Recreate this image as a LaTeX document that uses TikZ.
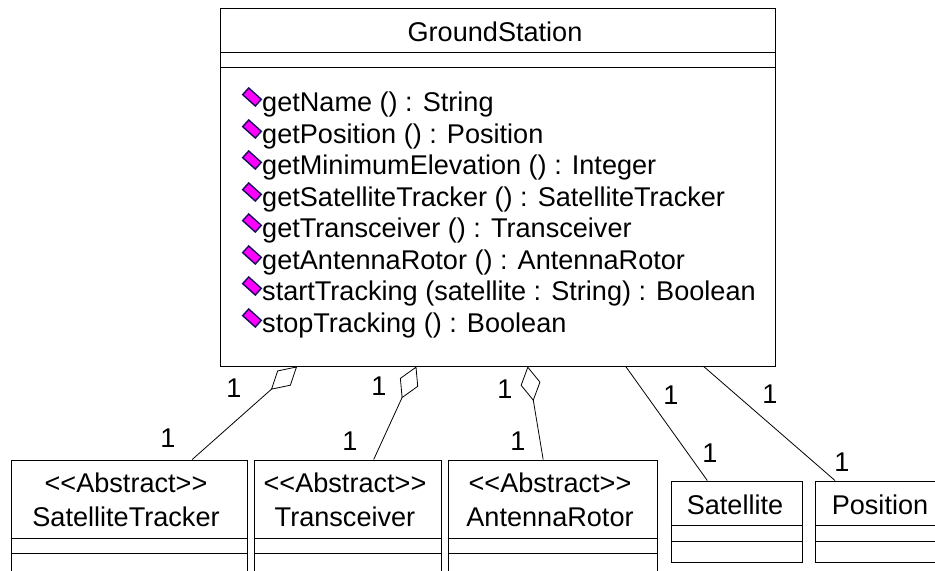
\documentclass[tikz,border=0pt]{standalone}
\usepackage{fontspec}
\setmainfont{Liberation Sans}
\usetikzlibrary{arrows.meta,shapes.geometric}
\definecolor{opmagenta}{rgb}{1.0,0.0,1.0}
\definecolor{opedge}{rgb}{0.1,0.05,0.35}
\tikzset{
  classbox/.style={draw=black,line width=0.9bp,minimum width=#1,inner sep=0pt},
  boxtext/.style={inner sep=0pt,align=center,font=\fontsize{27.2}{34}\selectfont},
  oplist/.style={inner sep=0pt,align=left,anchor=north west,font=\fontsize{27.2}{31.6}\selectfont},
  multiplicity/.style={inner sep=0pt,font=\fontsize{27.2}{30}\selectfont},
  compart/.style={line width=0.9bp},
  assoc/.style={line width=0.8bp},
  aggregation/.style={assoc,{Diamond[open,length=35bp,width=20bp]}-},
  opicon/.style={rectangle,rotate=-42,draw=opedge,line width=1.4bp,fill=opmagenta,inner sep=0pt,minimum width=17bp,minimum height=9bp}
}
\begin{document}
\begin{tikzpicture}[x=1bp,y=-1bp]
  \useasboundingbox (0,0) rectangle (935,571);
  \clip (0,0) rectangle (935,571);
  % Classes
  \node[classbox=555bp,minimum height=358bp] (ground) at (498,187) {};
  \node[classbox=236bp,minimum height=112bp] (tracker) at (129,516) {};
  \node[classbox=187bp,minimum height=112bp] (transceiver) at (348,516) {};
  \node[classbox=209bp,minimum height=112bp] (rotor) at (552.5,516) {};
  \node[classbox=131bp,minimum height=81bp] (satellite) at (736.5,521.5) {};
  \node[classbox=134bp,minimum height=81bp] (position) at (882,521.5) {};
  % Compartments
  \draw[compart] (ground.west |- 0,52) -- (ground.east |- 0,52);
  \draw[compart] (ground.west |- 0,67) -- (ground.east |- 0,67);
  \foreach \name in {tracker,transceiver,rotor} {
    \draw[compart] (\name.west |- 0,538) -- (\name.east |- 0,538);
    \draw[compart] (\name.west |- 0,553) -- (\name.east |- 0,553);
  }
  \foreach \name in {satellite,position} {
    \draw[compart] (\name.west |- 0,525) -- (\name.east |- 0,525);
    \draw[compart] (\name.west |- 0,541) -- (\name.east |- 0,541);
  }
  % Names
  \node[boxtext] (groundname) at (495,32) {GroundStation};
  \node[boxtext] (trackername) at (126,500) {{<}{<}Abstract{>}{>}\\SatelliteTracker};
  \node[boxtext] (transceivername) at (345,500) {{<}{<}Abstract{>}{>}\\Transceiver};
  \node[boxtext] (rotorname) at (550,500) {{<}{<}Abstract{>}{>}\\AntennaRotor};
  \node[boxtext] (satellitename) at (735,505) {Satellite};
  \node[boxtext] (positionname) at (880,505) {Position};
  % Operations
  \node[oplist] (operations) at (262,92) {getName () : String\\getPosition () : Position\\getMinimumElevation () : Integer\\getSatelliteTracker () : SatelliteTracker\\getTransceiver () : Transceiver\\getAntennaRotor () : AntennaRotor\\startTracking (satellite : String) : Boolean\\stopTracking () : Boolean};
  \foreach \i/\y in {1/97,2/129,3/160,4/192,5/223,6/255,7/286,8/318} {
    \node[opicon] (icon\i) at (252,\y) {};
  }
  % Associations
  \draw[aggregation] (ground) -- (tracker);
  \draw[aggregation] (ground) -- (transceiver);
  \draw[aggregation] (ground) -- (rotor);
  \draw[assoc] (ground) -- (satellite);
  \draw[assoc] (ground) -- (position);
  % Multiplicities
  \node[multiplicity] (m1) at (234,388) {1};
  \node[multiplicity] (m2) at (168,438) {1};
  \node[multiplicity] (m3) at (379,386) {1};
  \node[multiplicity] (m4) at (350,441) {1};
  \node[multiplicity] (m5) at (505,389) {1};
  \node[multiplicity] (m6) at (518,441) {1};
  \node[multiplicity] (m7) at (671,395) {1};
  \node[multiplicity] (m8) at (710,453) {1};
  \node[multiplicity] (m9) at (770,394) {1};
  \node[multiplicity] (m10) at (842,462) {1};
\end{tikzpicture}
\end{document}
